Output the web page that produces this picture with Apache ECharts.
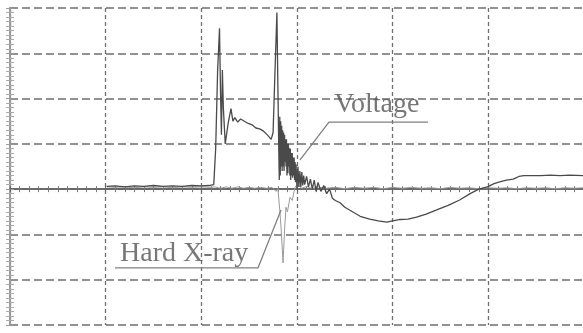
<!DOCTYPE html>
<html>
<head>
<meta charset="utf-8">
<script src="https://cdn.jsdelivr.net/npm/echarts@6/dist/echarts.min.js"></script>
<style>
html,body{margin:0;padding:0;background:#fff;}
#c{width:583px;height:333px;}
</style>
</head>
<body>
<div id="c"></div>
<script>
// Time axis: 6 divisions (0..600), amplitude axis: 7 divisions (-3..4)
var xTicks = [0, 100, 200, 300, 400, 500, 600];
var yTicks = [-3, -2, -1, 0, 1, 2, 3, 4];

var voltage = [
  [101,0.06],[110,0.07],[120,0.05],[130,0.07],[140,0.06],[150,0.08],[160,0.06],[170,0.07],
  [180,0.06],[190,0.08],[200,0.07],[208,0.08],[213,0.10],
  [215,0.9],[217,2.6],[219,3.55],[220,2.2],[221,1.2],[222,2.63],[223,1.8],[225,1.0],
  [228,1.45],[231,1.78],[233,1.5],[235,1.58],[238,1.48],[241,1.55],[245,1.5],[249,1.45],
  [253,1.42],[257,1.35],[261,1.33],[265,1.28],[268,1.22],[271,1.15],[273,1.1],[275,1.25],
  [277,2.6],[279,3.9],[280,2.3],[281,0.8],[281.5,0.2],[282,1.6],[282.5,0.3],[283,1.5],[283.5,0.5],
  [284,1.4],[284.5,0.4],[285,1.3],[285.5,0.5],[286,1.25],[286.5,0.4],[287,1.2],[287.5,0.6],
  [288,1.1],[288.5,0.5],[289,1.1],[289.5,0.3],[290,1.0],[290.5,0.35],[291,1.0],[291.5,0.5],
  [292,0.9],[292.5,0.3],[293,0.9],[293.5,0.2],[294,0.8],[294.5,0.3],[295,0.8],[295.5,0.25],
  [296,0.7],[296.5,0.3],[297,0.7],[297.5,0.2],[298,0.6],[298.5,0.15],[299,0.55],[300,0.0],
  [301,0.5],[302,0.05],[303,0.4],[304,0.05],[305,0.38],[306,0.08],[307,0.3],[308,0.1],
  [310,0.28],[312,0.05],[314,0.22],[316,0.0],[318,0.2],[320,-0.05],[322,0.15],
  [325,-0.05],[328,0.08],[331,-0.1],[334,0.0],[337,-0.2],[340,-0.25],[345,-0.3],[350,-0.4],
  [358,-0.5],[366,-0.6],[376,-0.66],[385,-0.7],[394,-0.73],[400,-0.7],[408,-0.67],[416,-0.66],
  [425,-0.62],[435,-0.55],[446,-0.46],[458,-0.36],[470,-0.24],[481,-0.1],[490,0.0],[499,0.05],
  [506,0.12],[512,0.16],[519,0.2],[526,0.22],[532,0.28],[537,0.3],[545,0.3],[555,0.3],
  [565,0.31],[575,0.3],[585,0.31],[599,0.3]
];

var hardXray = [
  [101,0.05],[110,0.04],[120,0.05],[130,0.03],[140,0.05],[150,0.04],[160,0.05],[170,0.03],
  [180,0.05],[190,0.04],[200,0.05],[210,0.04],[214,0.05],[220,0.02],[226,0.05],[232,0.02],
  [238,0.05],[244,0.02],[250,0.04],[256,0.02],[262,0.04],[268,0.02],[274,0.04],[278,-0.05],
  [280,0.02],[282,-0.46],[283.5,-0.9],[285.4,-1.63],[287,-0.9],[288.5,-0.4],[290,-0.5],
  [292.7,-0.18],[295,-0.25],[297.9,0.04],[300,0.1],[305,0.02],[310,0.06],[316,0.01],
  [322,0.05],[330,0.02],[340,0.04],[350,0.01],[360,0.04],[370,0.02],[380,0.04],[390,0.01],
  [400,0.04],[410,0.02],[420,0.04],[430,0.02],[440,0.03],[450,0.01],[460,0.04],[470,0.02],
  [480,0.03],[490,0.01],[500,0.03],[510,0.02],[520,0.03],[530,0.01],[540,0.03],[550,0.02],
  [560,0.03],[570,0.01],[580,0.03],[590,0.02],[599,0.03]
];

// annotation leader lines and labels (data coordinates)
var voltageLeader = [[303,0.64],[333.4,1.48],[437,1.48]];
var xrayLeader = [[283.3,-0.46],[259.2,-1.74],[109.7,-1.74]];
var labelTexts = ['Voltage', 'Hard X-ray'];
var labelAnchors = [[339,1.86],[115,-1.42]];

var gray = '#6e6e6e';
var chart = echarts.init(document.getElementById('c'), null, {renderer:'canvas'});

function xAxisDef(inside, showSplit) {
  return {
    type:'value', min:xTicks[0], max:xTicks[xTicks.length-1], interval:100,
    position:'bottom',
    axisLine:{show:true, lineStyle:{color:'#666', width:1.5}},
    axisTick:{show:true, inside:inside, length:3, lineStyle:{color:'#666'}},
    minorTick:{show:true, splitNumber:10, length:3, lineStyle:{color:'#777'}},
    axisLabel:{show:false},
    splitLine:{show:showSplit, lineStyle:{color:gray, width:1.3, type:[4,3]}}
  };
}
function yAxisDef(inside, showSplit) {
  return {
    type:'value', min:yTicks[0], max:yTicks[yTicks.length-1], interval:1,
    position:'left',
    axisLine:{show:true, lineStyle:{color:'#999', width:2}},
    axisTick:{show:true, inside:inside, length:4, lineStyle:{color:'#999'}},
    minorTick:{show:true, splitNumber:10, length:4, lineStyle:{color:'#aaa'}},
    axisLabel:{show:false},
    splitLine:{show:showSplit, lineStyle:{color:gray, width:1.6, type:[8,4]}}
  };
}

chart.setOption({
  animation:false,
  backgroundColor:'#fff',
  grid:{left:10, top:8, width:574, height:317, outerBoundsMode:'none', containLabel:false},
  xAxis:[xAxisDef(false,true), xAxisDef(true,false)],
  yAxis:[yAxisDef(false,true), yAxisDef(true,false)],
  series:[
    {type:'line', data:hardXray, showSymbol:false, symbol:'none',
     lineStyle:{color:'#999', width:1}, z:2},
    {type:'line', data:voltage, showSymbol:false, symbol:'none',
     lineStyle:{color:'#4a4a4a', width:1.3}, z:3},
    {type:'line', data:voltageLeader, showSymbol:false, symbol:'none',
     lineStyle:{color:'#808080', width:1.3}, z:4},
    {type:'line', data:xrayLeader, showSymbol:false, symbol:'none',
     lineStyle:{color:'#808080', width:1.3}, z:4},
    {type:'scatter', symbolSize:0, z:5,
     data:labelAnchors.map(function(p,i){return {value:p, name:labelTexts[i]};}),
     label:{show:true, position:'right', distance:0, formatter:'{b}',
            fontFamily:'Liberation Serif', fontSize:28, color:'#555'}}
  ]
});
</script>
</body>
</html>
